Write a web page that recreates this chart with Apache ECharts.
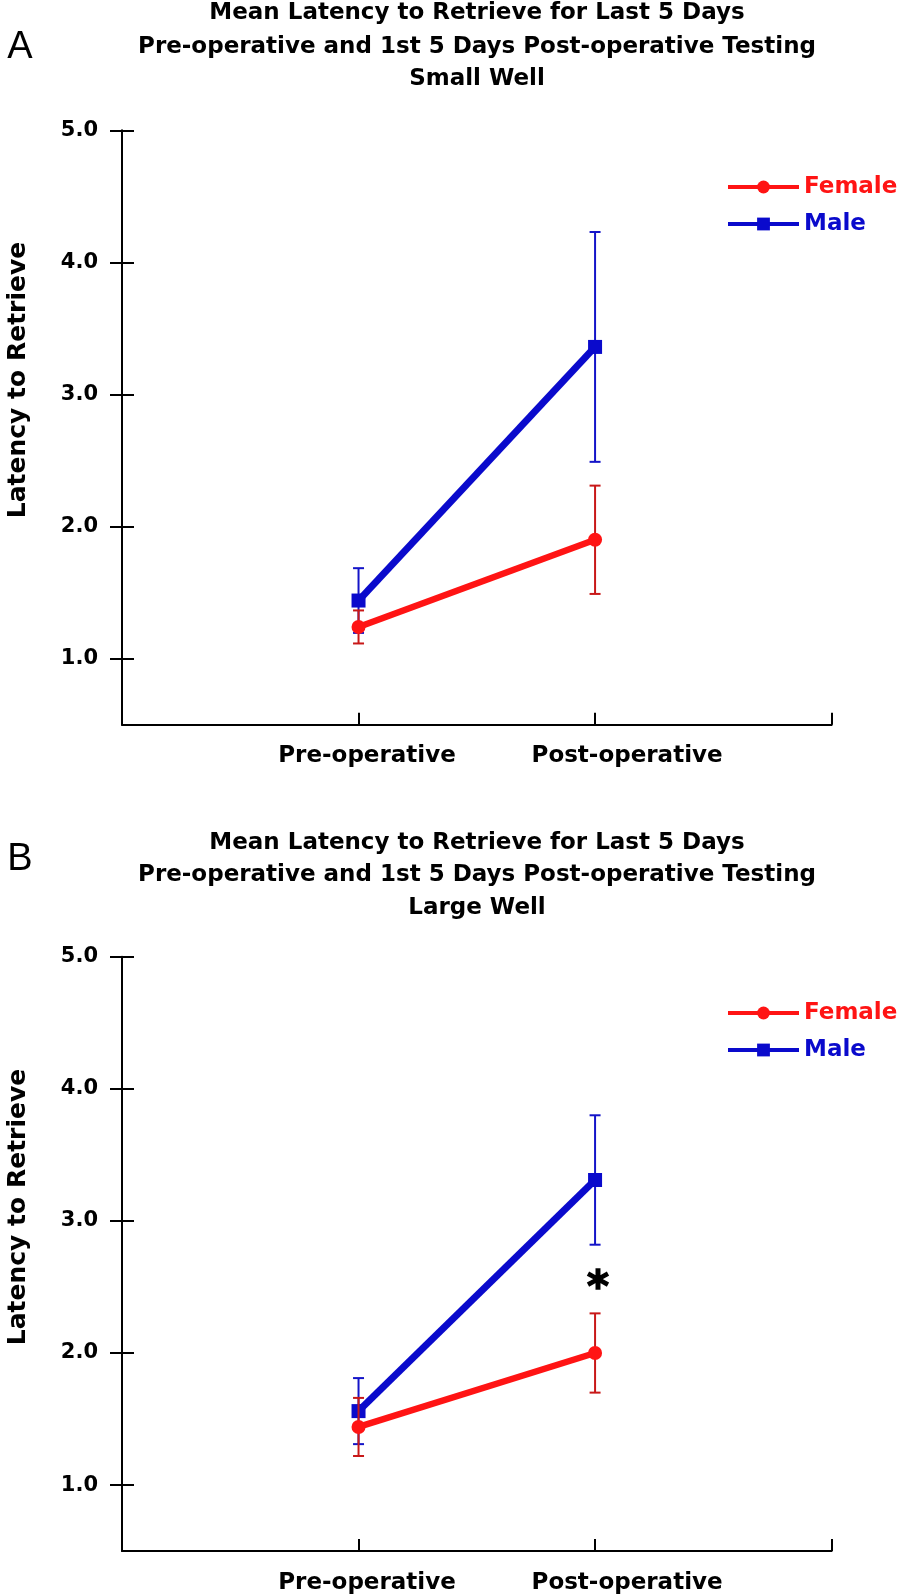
<!DOCTYPE html>
<html><head><meta charset="utf-8">
<script src="https://cdn.jsdelivr.net/npm/echarts@6/dist/echarts.min.js"></script>
<style>html,body{margin:0;padding:0;background:#fff}#c{width:913px;height:1596px}</style>
</head><body><div id="c"></div>
<script>
// ---- data ----
const categories = ['Pre-operative', 'Post-operative'];
const yTicks = [1, 2, 3, 4, 5];
const seriesNames = ['Female', 'Male'];
const titleA = ['Mean Latency to Retrieve for Last 5 Days', 'Pre-operative and 1st 5 Days Post-operative Testing', 'Small Well'];
const titleB = ['Mean Latency to Retrieve for Last 5 Days', 'Pre-operative and 1st 5 Days Post-operative Testing', 'Large Well'];
const yName = 'Latency to Retrieve';
// Panel A: Small Well (mean, +/- error)
const femaleSmall = [1.24, 1.90];
const femaleSmallErr = [0.125, 0.41];
const maleSmall = [1.44, 3.36];
const maleSmallErr = [0.245, 0.87];
// Panel B: Large Well
const femaleLarge = [1.44, 2.00];
const femaleLargeErr = [0.22, 0.30];
const maleLarge = [1.56, 3.31];
const maleLargeErr = [0.25, 0.49];
// significance marker (Post-operative, Large Well)
const sigMark = [[2, 2.56]];

// ---- styles ----
const RED = '#ff1414', RED_ERR = '#c81818', BLUE = '#0a0acc', BLUE_ERR = '#1414c8';
const FONT = 'DejaVu Sans';

const pts = v => v.map((y, i) => [i + 1, y]);
const errs = (v, e) => v.map((y, i) => [i + 1, y - e[i], y + e[i]]);

function errRender(color) {
  return function (params, api) {
    const x = api.value(0), lo = api.value(1), hi = api.value(2);
    const a = api.coord([x, lo]), b = api.coord([x, hi]);
    const hw = 5.5;
    const style = { stroke: color, lineWidth: 2, fill: null };
    return { type: 'group', children: [
      { type: 'line', shape: { x1: a[0], y1: a[1], x2: b[0], y2: b[1] }, style },
      { type: 'line', shape: { x1: a[0] - hw, y1: a[1], x2: a[0] + hw, y2: a[1] }, style },
      { type: 'line', shape: { x1: b[0] - hw, y1: b[1], x2: b[0] + hw, y2: b[1] }, style }
    ]};
  };
}

function sigRender(params, api) {
  const p = api.coord([api.value(0), api.value(1)]);
  return { type: 'text', x: p[0] + 3, y: p[1] + 11,
    style: { text: '*', fill: '#000', stroke: '#000', lineWidth: 1.5,
      font: 'bold 42px "DejaVu Sans"', align: 'center', verticalAlign: 'middle' } };
}

const grids = [
  { left: 122, right: 81.4, top: 130.3, height: 594.4 },
  { left: 122, right: 81.4, top: 956.8, height: 594.3 }
];

const labelFont = { fontFamily: FONT, fontWeight: 'bold', fontSize: 23, color: '#000' };
function xAxis(gi) {
  return {
    type: 'value', gridIndex: gi, min: 0, max: 3, interval: 1,
    axisLine: { show: true, lineStyle: { color: '#000', width: 2 } },
    axisTick: { show: true, inside: true, length: 12, lineStyle: { color: '#000', width: 2 } },
    axisLabel: {
      formatter: v => (v === 1 ? '{c1|' + categories[0] + '}' : v === 2 ? '{c2|' + categories[1] + '}' : ''),
      margin: 20, color: '#000',
      rich: {
        c1: Object.assign({ padding: [0, 0, 0, 17] }, labelFont),
        c2: Object.assign({ padding: [0, 0, 0, 64] }, labelFont)
      }
    },
    splitLine: { show: false }
  };
}
function yAxes(gi) {
  return [{
    type: 'value', gridIndex: gi, min: 0.5, max: 5,
    axisLine: { show: true, lineStyle: { color: '#000', width: 2 } },
    axisTick: { show: true, length: 12, customValues: yTicks, lineStyle: { color: '#000', width: 2 } },
    axisLabel: { customValues: yTicks, formatter: v => v.toFixed(1), margin: 24, color: '#000',
      fontFamily: FONT, fontWeight: 'bold', fontSize: 21 },
    splitLine: { show: false }
  }, {
    type: 'value', gridIndex: gi, min: 0.5, max: 5, position: 'left',
    axisLine: { show: false },
    axisTick: { show: true, inside: true, length: 12, customValues: yTicks, lineStyle: { color: '#000', width: 2 } },
    axisLabel: { show: false },
    splitLine: { show: false }
  }];
}

function panelSeries(gi, fem, femE, mal, malE) {
  const yi = gi * 2;
  return [
    { type: 'custom', name: 'maleErr', xAxisIndex: gi, yAxisIndex: yi, z: 2,
      renderItem: errRender(BLUE_ERR), data: errs(mal, malE), encode: { x: 0, y: [1, 2] } },
    { type: 'line', name: seriesNames[1], xAxisIndex: gi, yAxisIndex: yi, z: 3,
      data: pts(mal), symbol: 'rect', symbolSize: 14,
      lineStyle: { color: BLUE, width: 7 }, itemStyle: { color: BLUE } },
    { type: 'custom', name: 'femaleErr', xAxisIndex: gi, yAxisIndex: yi, z: 4,
      renderItem: errRender(RED_ERR), data: errs(fem, femE), encode: { x: 0, y: [1, 2] } },
    { type: 'line', name: seriesNames[0], xAxisIndex: gi, yAxisIndex: yi, z: 5,
      data: pts(fem), symbol: 'circle', symbolSize: 14,
      lineStyle: { color: RED, width: 6.5 }, itemStyle: { color: RED } }
  ];
}

function legendItem(name, color, centerY) {
  return {
    data: [{ name, textStyle: { color } }], left: 726, top: centerY - 12, padding: 0,
    itemWidth: 71, itemHeight: 16, selectedMode: false,
    lineStyle: { width: 4 },
    textStyle: { fontFamily: FONT, fontWeight: 'bold', fontSize: 23, lineHeight: 24 }
  };
}

function txt(text, x, y, size, weight, family, rot) {
  return { type: 'text', x, y, rotation: rot || 0, silent: true,
    style: { text, fill: '#000', font: `${weight} ${size}px "${family}"`, align: 'center', verticalAlign: 'middle' } };
}

const graphics = [
  txt('A', 20, 48, 38, 'normal', 'Liberation Sans'),
  txt(titleA[0], 477, 13, 23, 'bold', FONT),
  txt(titleA[1], 477, 47.5, 23, 'bold', FONT),
  txt(titleA[2], 477, 79, 23, 'bold', FONT),
  txt(yName, 18, 380, 25, 'bold', FONT, Math.PI / 2),
  txt('B', 20, 860, 38, 'normal', 'Liberation Sans'),
  txt(titleB[0], 477, 843, 23, 'bold', FONT),
  txt(titleB[1], 477, 875, 23, 'bold', FONT),
  txt(titleB[2], 477, 908, 23, 'bold', FONT),
  txt(yName, 18, 1207, 25, 'bold', FONT, Math.PI / 2)
];

const option = {
  animation: false,
  backgroundColor: '#fff',
  grid: grids,
  xAxis: [xAxis(0), xAxis(1)],
  yAxis: [...yAxes(0), ...yAxes(1)],
  legend: [
    legendItem(seriesNames[0], RED, 187),
    legendItem(seriesNames[1], BLUE, 224),
    legendItem(seriesNames[0], RED, 1013),
    legendItem(seriesNames[1], BLUE, 1050)
  ],
  graphic: graphics,
  series: [
    ...panelSeries(0, femaleSmall, femaleSmallErr, maleSmall, maleSmallErr),
    ...panelSeries(1, femaleLarge, femaleLargeErr, maleLarge, maleLargeErr),
    { type: 'custom', name: 'sig', xAxisIndex: 1, yAxisIndex: 2, z: 6,
      renderItem: sigRender, data: sigMark, encode: { x: 0, y: 1 } }
  ]
};
const chart = echarts.init(document.getElementById('c'), null, { renderer: 'canvas' });
chart.setOption(option);
</script></body></html>
